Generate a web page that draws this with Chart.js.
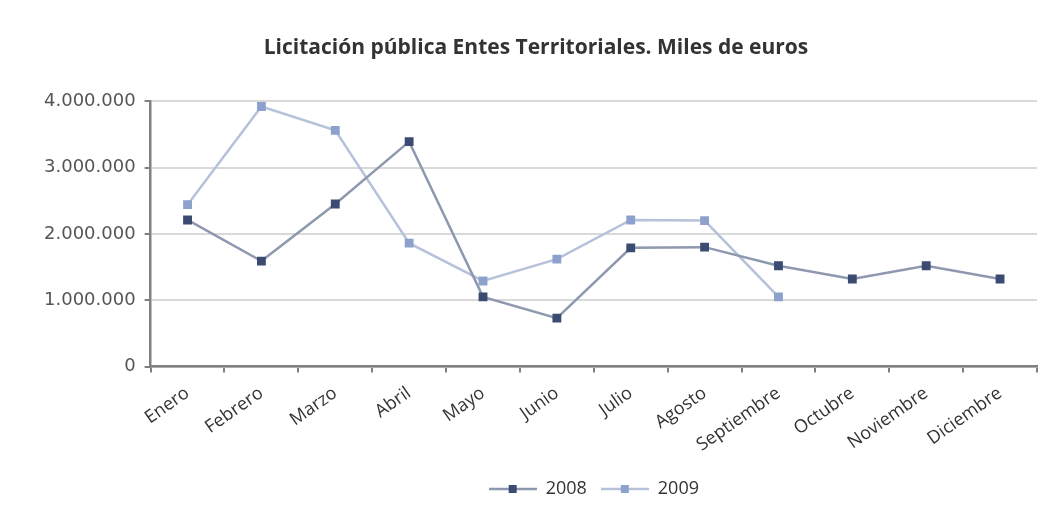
<!DOCTYPE html>
<html><head><meta charset="utf-8">
<script src="https://cdn.jsdelivr.net/npm/chart.js@4.4.1/dist/chart.umd.min.js"></script>
<style>html,body{margin:0;padding:0;background:#fff;}#wrap{width:1055px;height:511px;}</style>
</head><body><div id="wrap"><canvas id="c" width="1055" height="511"></canvas></div>
<script>
const months = ["Enero","Febrero","Marzo","Abril","Mayo","Junio","Julio","Agosto","Septiembre","Octubre","Noviembre","Diciembre"];
const series2008 = [2210000,1590000,2450000,3390000,1050000,730000,1790000,1800000,1520000,1320000,1520000,1320000];
const series2009 = [2440000,3920000,3560000,1860000,1290000,1620000,2210000,2200000,1050000,null,null,null];
const seriesNames = ["2008","2009"];
const yTicks = [0,1000000,2000000,3000000,4000000];
const titleText = "Licitación pública Entes Territoriales. Miles de euros";

const C1 = {line:'#8e98ae', pt:'#3b4b72'};
const C2 = {line:'#b6c2da', pt:'#8da1cd'};
function legendIcon(c){
  const cv=document.createElement('canvas'); cv.width=48; cv.height=12;
  const x=cv.getContext('2d');
  x.strokeStyle=c.line; x.lineWidth=2.5; x.beginPath(); x.moveTo(0,6); x.lineTo(48,6); x.stroke();
  x.fillStyle=c.pt; x.fillRect(20,2,8,8);
  return cv;
}
const fmt = v => String(v).replace(/\B(?=(\d{3})+(?!\d))/g,'.');
const FONT = "'Open Sans', sans-serif";
new Chart(document.getElementById('c'),{
  type:'line',
  data:{labels:months,datasets:[
    {label:seriesNames[0],data:series2008,borderColor:C1.line,borderWidth:2.5,pointStyle:'rect',pointRadius:4.5,pointBackgroundColor:C1.pt,pointBorderColor:C1.pt,tension:0,icon:legendIcon(C1)},
    {label:seriesNames[1],data:series2009,borderColor:C2.line,borderWidth:2.5,pointStyle:'rect',pointRadius:4.5,pointBackgroundColor:C2.pt,pointBorderColor:C2.pt,tension:0,icon:legendIcon(C2)}
  ]},
  options:{
    responsive:false,animation:false,
    layout:{padding:{left:35,right:18,top:0,bottom:3}},
    plugins:{
      title:{display:true,text:titleText,color:'#333',font:{family:FONT,size:21,weight:'bold'},padding:{top:35,bottom:41}},
      legend:{position:'bottom',fullSize:false,labels:{color:'#333',font:{family:FONT,size:18},usePointStyle:true,pointStyleWidth:48,padding:14,
        generateLabels:(chart)=>chart.data.datasets.map((d,i)=>({text:d.label,pointStyle:d.icon,fillStyle:d.borderColor,strokeStyle:d.borderColor,lineWidth:0,fontColor:'#333',datasetIndex:i}))}},
      tooltip:{enabled:false}
    },
    scales:{
      x:{offset:true,grid:{offset:true,drawOnChartArea:false,tickLength:6,tickColor:'#808080',lineWidth:2},border:{color:'#808080',width:2.5},
        ticks:{minRotation:35,maxRotation:35,color:'#333',font:{family:FONT,size:18},padding:10}},
      y:{min:0,max:4000000,afterBuildTicks:(ax)=>{ax.ticks=yTicks.map(v=>({value:v}));},
        grid:{color:'#d9d9d9',lineWidth:2,tickLength:6,tickColor:'#808080'},border:{color:'#808080',width:2.5},
        ticks:{color:'#555',font:{family:"'DejaVu Sans', sans-serif",size:18},padding:9,callback:(v)=>fmt(v)}}
    }
  }
});
</script></body></html>
